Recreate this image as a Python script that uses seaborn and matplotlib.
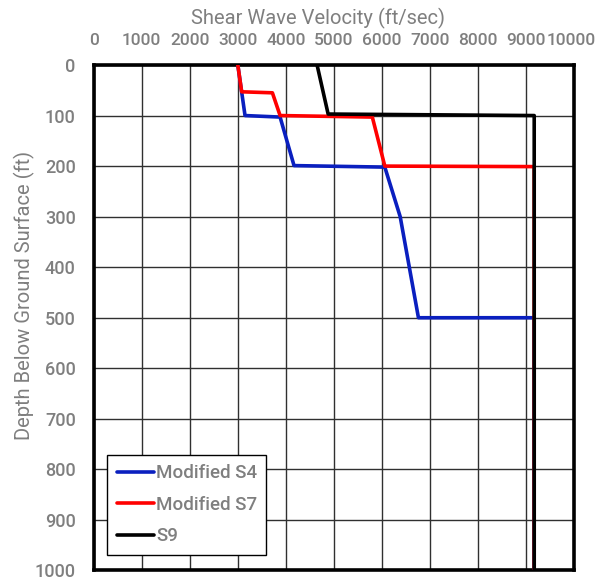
import matplotlib
matplotlib.use("Agg")
import matplotlib.pyplot as plt
import matplotlib.transforms as mtransforms
import pandas as pd
import seaborn as sns

# Shear wave velocity profiles (ft/sec) against depth below ground surface (ft)
s4_velocity = [3000, 3150, 3880, 4170, 6060, 6380, 6570, 6760, 9170, 9170]
s4_depth = [0, 100, 103, 199, 202, 300, 400, 500, 500, 1000]

s7_velocity = [3000, 3080, 3720, 3880, 5800, 6060, 9170, 9170]
s7_depth = [0, 53, 55, 100, 103, 200, 201, 1000]

s9_velocity = [4650, 4880, 9170, 9170]
s9_depth = [0, 97, 100, 1000]

profile_names = ["Modified S4", "Modified S7", "S9"]
x_ticks = [0, 1000, 2000, 3000, 4000, 5000, 6000, 7000, 8000, 9000, 10000]
y_ticks = [0, 100, 200, 300, 400, 500, 600, 700, 800, 900, 1000]

frames = []
for name, vel, dep in zip(profile_names,
                          [s4_velocity, s7_velocity, s9_velocity],
                          [s4_depth, s7_depth, s9_depth]):
    frames.append(pd.DataFrame({"velocity": vel, "depth": dep, "profile": name}))
data = pd.concat(frames, ignore_index=True)

sns.set_theme(style="white")
plt.rcParams["font.family"] = ["Roboto", "DejaVu Sans"]
plt.rcParams["font.weight"] = "medium"

gray = "#7f7f7f"
palette = {"Modified S4": "#0a1fbf", "Modified S7": "#ff0000", "S9": "#000000"}

fig = plt.figure(figsize=(5.98, 5.82), dpi=100)
ax = fig.add_axes([0.1567, 0.0198, 0.8033, 0.8685])

sns.lineplot(data=data, x="velocity", y="depth", hue="profile",
             palette=palette, hue_order=profile_names,
             estimator=None, sort=False, linewidth=2.6, ax=ax, zorder=3)

ax.set_xlim(0, 10000)
ax.set_ylim(1000, 0)
ax.set_xticks(x_ticks)
ax.set_yticks(y_ticks)
ax.xaxis.tick_top()
ax.xaxis.set_label_position("top")
ax.tick_params(axis="both", length=0, labelsize=13, labelcolor=gray)
ax.tick_params(axis="x", pad=12, labelsize=12.5)
ax.tick_params(axis="y", pad=13)

# keep the last velocity label inside the figure
last = ax.get_xticklabels()[-1]
last.set_transform(last.get_transform() +
                   mtransforms.ScaledTranslation(-3 / 100, 0, fig.dpi_scale_trans))

ax.set_xlabel("Shear Wave Velocity (ft/sec)", fontsize=14.5, color=gray)
ax.set_ylabel("Depth Below Ground Surface (ft)", fontsize=14.5, color=gray)
ax.xaxis.set_label_coords(0.466, 1.08)
ax.yaxis.set_label_coords(-0.122, 0.545)

ax.grid(True, color="#303030", linewidth=1.0)
ax.set_axisbelow(True)
for spine in ax.spines.values():
    spine.set_visible(True)
    spine.set_color("black")
    spine.set_linewidth(2.6)

handles, labels = ax.get_legend_handles_labels()
leg = ax.legend(handles, labels, loc="lower left", bbox_to_anchor=(0.028, 0.031),
                borderaxespad=0, frameon=True, fancybox=False, fontsize=13.5,
                handlelength=2.0, handletextpad=0.1, labelspacing=0.72,
                borderpad=0.5, labelcolor=gray)
leg.get_frame().set_edgecolor("black")
leg.get_frame().set_linewidth(1.0)
leg.get_frame().set_alpha(1)

fig.savefig("out.png", dpi=100)
